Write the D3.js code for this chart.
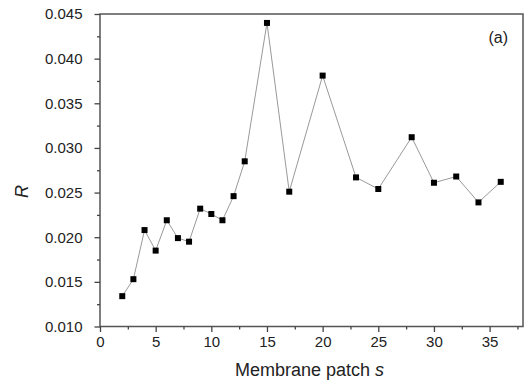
<!DOCTYPE html>
<html>
<head>
<meta charset="utf-8">
<script src="https://cdn.jsdelivr.net/npm/d3@7"></script>
<style>
  body { margin: 0; background: #fff; }
  svg text { font-family: "Liberation Sans", Arial, sans-serif; fill: #222; }
</style>
</head>
<body>
<div id="chart"></div>
<script>
// membrane patch index s and the R value
var patch = [2, 3, 4, 5, 6, 7, 8, 9, 10, 11, 12, 13, 15, 17, 20, 23, 25, 28, 30, 32, 34, 36];
var rValue = [0.0134, 0.0153, 0.0208, 0.0185, 0.0219, 0.0199, 0.0195, 0.0232, 0.0226, 0.0219,
  0.0246, 0.0285, 0.0440, 0.0251, 0.0381, 0.0267, 0.0254, 0.0312, 0.0261, 0.0268, 0.0239, 0.0262];
var xTicks = [0, 5, 10, 15, 20, 25, 30, 35];
var xMinor = [2.5, 7.5, 12.5, 17.5, 22.5, 27.5, 32.5, 37.5];
var yTicks = [0.010, 0.015, 0.020, 0.025, 0.030, 0.035, 0.040, 0.045];
var yMinor = [0.0125, 0.0175, 0.0225, 0.0275, 0.0325, 0.0375, 0.0425];

let width = 525, height = 383;
let m = { left: 100, right: 523, top: 14, bottom: 326.5 };

let svg = d3.select('#chart').append('svg')
  .attr('width', width)
  .attr('height', height);

let x = d3.scaleLinear().domain([0, 38]).range([m.left, m.right]);
let y = d3.scaleLinear().domain([0.010, 0.045]).range([m.bottom, m.top]);

/** frame */
svg.append('rect')
  .attr('x', m.left).attr('y', m.top)
  .attr('width', m.right - m.left).attr('height', m.bottom - m.top)
  .attr('fill', 'none')
  .attr('stroke', '#555')
  .attr('stroke-width', 1.5);

/** axes, major then minor ticks */
function styleAxis(g) {
  g.select('.domain').remove();
  g.selectAll('.tick line').attr('stroke', '#444').attr('stroke-width', 1.3);
  g.selectAll('.tick text').attr('font-size', 15);
}

svg.append('g')
  .attr('transform', `translate(0,${m.bottom})`)
  .call(d3.axisBottom(x).tickValues(xTicks).tickFormat(d3.format('d')).tickSize(5.5).tickPadding(4))
  .call(styleAxis);

svg.append('g')
  .attr('transform', `translate(0,${m.bottom})`)
  .call(d3.axisBottom(x).tickValues(xMinor).tickFormat('').tickSize(3))
  .call(styleAxis);

svg.append('g')
  .attr('transform', `translate(${m.left},0)`)
  .call(d3.axisLeft(y).tickValues(yTicks).tickFormat(d3.format('.3f')).tickSize(5.5).tickPadding(12))
  .call(styleAxis);

svg.append('g')
  .attr('transform', `translate(${m.left},0)`)
  .call(d3.axisLeft(y).tickValues(yMinor).tickFormat('').tickSize(3))
  .call(styleAxis);

/** connecting line */
let pts = patch.map((s, i) => [s, rValue[i]]);
svg.append('path')
  .datum(pts)
  .attr('fill', 'none')
  .attr('stroke', '#999')
  .attr('stroke-width', 1)
  .attr('d', d3.line().x(d => x(d[0])).y(d => y(d[1])));

/** square markers */
svg.selectAll('.pt')
  .data(pts)
  .enter()
  .append('rect')
  .attr('class', 'pt')
  .attr('x', d => x(d[0]) - 3)
  .attr('y', d => y(d[1]) - 3)
  .attr('width', 6)
  .attr('height', 6)
  .attr('fill', '#000');

/** labels */
let xl = svg.append('text')
  .attr('x', (m.left + m.right) / 2 - 2)
  .attr('y', 376)
  .attr('text-anchor', 'middle')
  .attr('font-size', 18);
xl.append('tspan').text('Membrane patch ');
xl.append('tspan').attr('font-style', 'italic').text('s');

svg.append('text')
  .attr('transform', 'translate(28,191.5) rotate(-90)')
  .attr('text-anchor', 'middle')
  .attr('font-size', 18)
  .attr('font-style', 'italic')
  .text('R');

svg.append('text')
  .attr('x', 508)
  .attr('y', 43)
  .attr('text-anchor', 'end')
  .attr('font-size', 16)
  .text('(a)');
</script>
</body>
</html>
